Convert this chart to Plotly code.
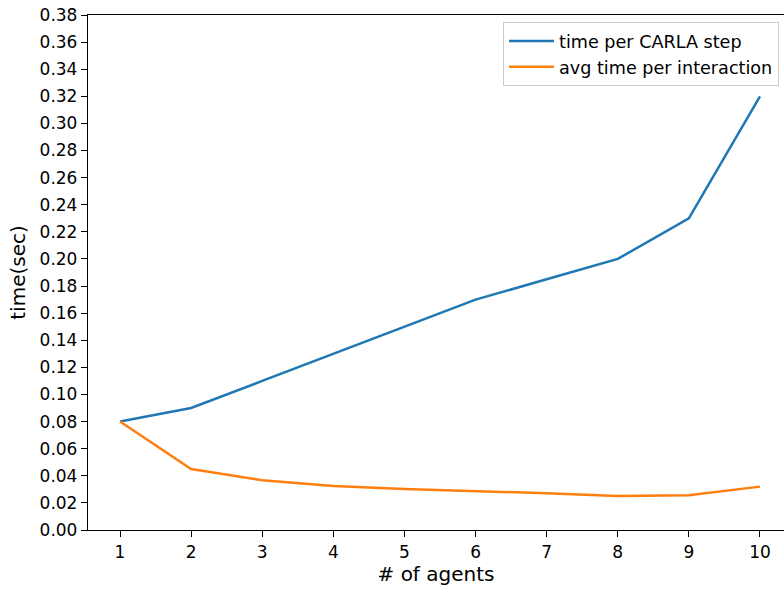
import plotly.graph_objects as go

agents = [1, 2, 3, 4, 5, 6, 7, 8, 9, 10]
time_per_step = [0.080, 0.090, 0.110, 0.130, 0.150, 0.170, 0.185, 0.200, 0.230, 0.320]
avg_time_interaction = [0.080, 0.045, 0.0367, 0.0325, 0.0303, 0.0288, 0.0271, 0.0251, 0.0256, 0.032]
y_ticks = [round(0.02 * i, 2) for i in range(20)]

font = "DejaVu Sans"
fig = go.Figure()
fig.add_trace(go.Scatter(x=agents, y=time_per_step, mode="lines",
                         line=dict(color="#1f77b4", width=2.5),
                         name="time per CARLA step"))
fig.add_trace(go.Scatter(x=agents, y=avg_time_interaction, mode="lines",
                         line=dict(color="#ff7f0e", width=2.5),
                         name="avg time per interaction"))

fig.update_layout(
    width=784, height=589,
    margin=dict(l=88, r=0, t=15, b=59),
    paper_bgcolor="white", plot_bgcolor="white",
    font=dict(family=font, size=17, color="black"),
    legend=dict(x=(503 - 88) / 696, y=(515 - 7) / 515, xanchor="left", yanchor="top",
                bordercolor="#cccccc", borderwidth=1, bgcolor="rgba(255,255,255,0.8)",
                font=dict(size=17.6), tracegroupgap=0, itemwidth=45),
    showlegend=True,
)
fig.update_xaxes(range=[0.55, 10.338], tickvals=agents, ticks="outside", ticklen=6,
                 tickwidth=1.3, tickcolor="black", showline=True, linecolor="black",
                 linewidth=1.3, mirror=True, showgrid=False, zeroline=False,
                 ticklabeloverflow="allow",
                 title=dict(text="# of agents", standoff=4), tickfont=dict(size=17))
fig.update_yaxes(range=[0, 0.38], tickvals=y_ticks, tickformat=".2f", ticks="outside",
                 ticklen=6, tickwidth=1.3, tickcolor="black", showline=True,
                 linecolor="black", linewidth=1.3, showgrid=False, zeroline=False,
                 ticklabeloverflow="allow",
                 title=dict(text="time(sec)", standoff=8), tickfont=dict(size=17))

fig.write_html("out.html", config={"displayModeBar": False},
               post_script="document.body.style.margin='0';document.body.style.overflow='hidden';")
